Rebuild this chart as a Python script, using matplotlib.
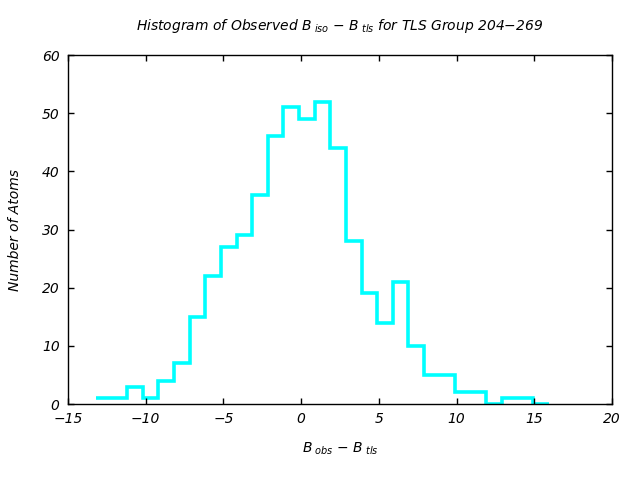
import numpy as np
import matplotlib
matplotlib.use("Agg")
import matplotlib.pyplot as plt

# histogram counts, one per bin (bin width ~1, first edge ~ -13.2)
counts = [1, 1, 3, 1, 4, 7, 15, 22, 27, 29, 36, 46, 51, 49, 52, 44,
          28, 19, 14, 21, 10, 5, 5, 2, 2, 0, 1, 1, 0]
first_edge = -13.2
bin_width = 1.005
edges = first_edge + bin_width * np.arange(len(counts) + 1)

plt.rcParams['font.family'] = 'DejaVu Sans'
plt.rcParams['font.style'] = 'italic'
plt.rcParams['mathtext.fontset'] = 'custom'
plt.rcParams['mathtext.it'] = 'DejaVu Sans:italic'
plt.rcParams['mathtext.rm'] = 'DejaVu Sans:italic'

fig = plt.figure(figsize=(6.4, 4.8), dpi=100)
ax = fig.add_axes([0.10625, 0.1583, 0.85, 0.7271])

ax.stairs(counts, edges, color='#00ffff', linewidth=2.6, baseline=None)

ax.set_xlim(-15, 20)
ax.set_ylim(0, 60)
ax.set_xticks(range(-15, 21, 5))
ax.set_yticks(range(0, 61, 10))
ax.tick_params(direction='in', top=True, right=True, length=4, width=1,
               labelsize=10, pad=6)
for lab in ax.get_xticklabels() + ax.get_yticklabels():
    lab.set_fontstyle('italic')
for s in ax.spines.values():
    s.set_linewidth(1)

ax.set_title(r"Histogram of Observed $B_{\ iso}$ $-$ $B_{\ tls}$ for TLS Group 204$-$269",
             fontsize=10, style='italic', pad=18)
ax.set_xlabel(r"$B_{\ obs}$ $-$ $B_{\ tls}$", fontsize=10, labelpad=10)
ax.set_ylabel("Number of Atoms", fontsize=10, style='italic', labelpad=14)

fig.savefig("out.png", dpi=100)
